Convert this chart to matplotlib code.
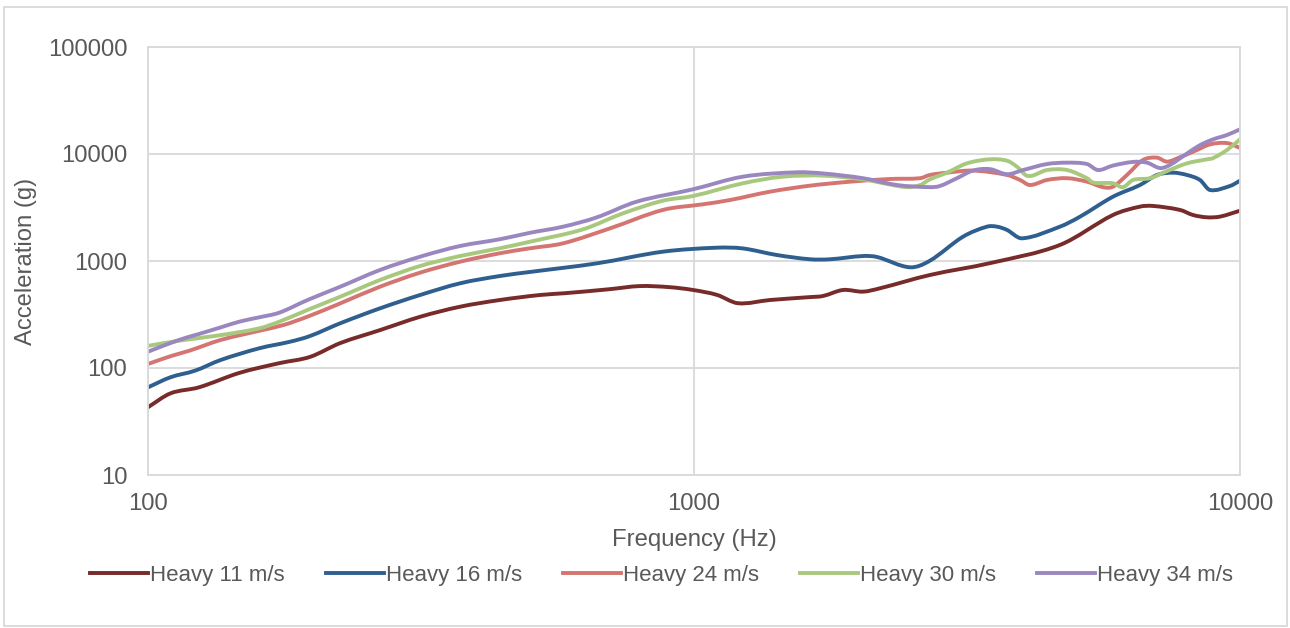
import numpy as np
import matplotlib.pyplot as plt
from matplotlib.patches import Rectangle, PathPatch
from matplotlib.path import Path
from matplotlib.lines import Line2D
from matplotlib.ticker import FixedLocator, NullLocator

plt.rcParams['font.family'] = ['Liberation Sans', 'DejaVu Sans']

# Heavy 11 m/s
f11 = [100, 110, 124, 147, 174, 198, 225, 266, 315, 373, 441, 522, 580, 700, 796, 900, 996,
       1102, 1204, 1378, 1632, 1723, 1875, 2039, 2191, 2705, 3500, 4680, 5853, 6558, 6928,
       7765, 8201, 8700, 9193, 10000]
a11 = [43, 58, 66, 90, 111, 127, 171, 226, 301, 374, 432, 481, 500, 545, 583, 570, 536,
       482, 403, 432, 460, 471, 536, 517, 556, 740, 960, 1413, 2692, 3222, 3270,
       3000, 2692, 2560, 2600, 2950]

# Heavy 16 m/s
f16 = [100, 110, 122, 136, 160, 182, 198, 225, 266, 315, 373, 441, 501, 664, 877, 1102,
       1229, 1419, 1632, 1775, 2039, 2164, 2486, 2705, 3109, 3440, 3588, 3744, 3988, 4680,
       5093, 5853, 6558, 7047, 7539, 7997, 8447, 8811, 9588, 10000]
a16 = [66, 82, 94.5, 119, 153, 176, 199, 262, 361, 481, 619, 724, 790, 951, 1222, 1332,
       1310, 1137, 1038, 1038, 1113, 1090, 873, 1007, 1686, 2094, 2094, 1950, 1629, 2094,
       2595, 3990, 5130, 6365, 6690, 6365, 5716, 4610, 5025, 5630]

# Heavy 24 m/s
f24 = [100, 110, 119, 136, 160, 177, 196, 225, 266, 315, 373, 441, 501, 576, 702, 877, 1039,
       1164, 1378, 1632, 1931, 2286, 2594, 2705, 2906, 3243, 3744, 3955, 4125, 4431, 4823,
       5245, 5612, 5853, 6209, 6642, 7047, 7350, 7765, 8341, 8811, 9467, 10000]
a24 = [109, 129, 145, 183, 223, 252, 302, 402, 575, 778, 985, 1181, 1315, 1464, 2020, 3000, 3390,
       3715, 4445, 5060, 5510, 5840, 5940, 6370, 6690, 7000, 6370, 5716, 5130, 5716, 5940,
       5510, 4900, 4950, 6370, 8790, 9240, 8480, 9330, 10900, 12300, 12650, 11400]

# Heavy 30 m/s
f30 = [100, 114, 136, 160, 174, 196, 225, 266, 315, 373, 441, 501, 626, 741, 877, 996, 1229,
       1455, 1723, 2039, 2191, 2455, 2594, 2705, 2906, 3162, 3484, 3744, 3905, 4090, 4431,
       4823, 5245, 5380, 5853, 6105, 6368, 6841, 7350, 7997, 8700, 8924, 9467, 10000]
a30 = [161, 180, 203, 235, 271, 349, 464, 664, 898, 1113, 1315, 1516, 1976, 2788, 3660, 4050, 5325,
       6140, 6280, 5800, 5410, 4900, 5120, 5800, 6690, 8180, 8920, 8650, 7600, 6220, 7080,
       7080, 5940, 5410, 5325, 4900, 5716, 5940, 6920, 8180, 8920, 9150, 10900, 13700]

# Heavy 34 m/s
f34 = [100, 114, 124, 136, 147, 160, 174, 196, 225, 266, 315, 373, 441, 501, 576, 664, 786, 996,
       1229, 1544, 1723, 2039, 2354, 2705, 2821, 3031, 3243, 3484, 3744, 4005, 4431, 4823,
       5245, 5495, 5853, 6368, 6755, 7137, 7444, 7997, 8447, 8924, 9467, 10000]
a34 = [142, 183, 208, 240, 271, 298, 329, 432, 575, 824, 1097, 1381, 1597, 1836, 2094, 2560, 3590, 4680,
       6140, 6745, 6580, 5940, 5130, 4900, 5025, 5940, 7000, 7220, 6470, 7080, 8060, 8300,
       8060, 7080, 7800, 8430, 8300, 7390, 7910, 10100, 12100, 13700, 15060, 17000]

labels = ['Heavy 11 m/s', 'Heavy 16 m/s', 'Heavy 24 m/s', 'Heavy 30 m/s', 'Heavy 34 m/s']
colors = ['#772B2A', '#2F5F8F', '#D47572', '#A8C97D', '#9B87BF']


def smooth_path(f, a):
    # smoothed line like Excel, bezier segments built in log-log space
    x = np.log10(f)
    y = np.log10(a)
    n = len(x)
    m = np.zeros(n)
    m[0] = (y[1] - y[0]) / (x[1] - x[0])
    m[-1] = (y[-1] - y[-2]) / (x[-1] - x[-2])
    m[1:-1] = (y[2:] - y[:-2]) / (x[2:] - x[:-2])
    verts = [(x[0], y[0])]
    codes = [Path.MOVETO]
    for i in range(n - 1):
        h = x[i + 1] - x[i]
        verts += [(x[i] + h / 3, y[i] + m[i] * h / 3),
                  (x[i + 1] - h / 3, y[i + 1] - m[i + 1] * h / 3),
                  (x[i + 1], y[i + 1])]
        codes += [Path.CURVE4] * 3
    return Path(10 ** np.array(verts), codes)


fig = plt.figure(figsize=(12.9, 6.28), dpi=100)
ax = fig.add_axes([148/1290, 1-475/628, (1240-148)/1290, (475-47)/628])

series = [(f11, a11), (f16, a16), (f24, a24), (f30, a30), (f34, a34)]
handles = []
for (f, a), lab, c in zip(series, labels, colors):
    ax.add_patch(PathPatch(smooth_path(f, a), fill=False, edgecolor=c, lw=2.8,
                           joinstyle='round', capstyle='round'))
    handles.append(Line2D([], [], color=c, lw=2.8, label=lab))

ax.set_xscale('log')
ax.set_yscale('log')
ax.set_xlim(100, 10000)
ax.set_ylim(10, 100000)
ax.xaxis.set_major_locator(FixedLocator([100, 1000, 10000]))
ax.yaxis.set_major_locator(FixedLocator([10, 100, 1000, 10000, 100000]))
ax.xaxis.set_minor_locator(NullLocator())
ax.yaxis.set_minor_locator(NullLocator())
ax.set_xticklabels(['100', '1000', '10000'])
ax.set_yticklabels(['10', '100', '1000', '10000', '100000'])
ax.tick_params(length=0, labelsize=17.2, labelcolor='#595959')
ax.tick_params(axis='x', pad=13)
ax.tick_params(axis='y', pad=15)
ax.grid(True, color='#D9D9D9', lw=1.3)
ax.set_axisbelow(True)
for s in ax.spines.values():
    s.set_color('#D9D9D9')
    s.set_linewidth(1.3)

ax.set_xlabel('Frequency (Hz)', fontsize=17.2, color='#595959', labelpad=10)
ax.set_ylabel('Acceleration (g)', fontsize=17.2, color='#595959', labelpad=8)

fig.legend(handles=handles, loc='center', bbox_to_anchor=(0.513, 1-575/628), ncol=5,
           frameon=False, fontsize=16, labelcolor='#595959', handlelength=2.6,
           handletextpad=0.1, columnspacing=1.85)

fig.patches.append(Rectangle((4/1290, 1-626/628), 1283/1290, 619/628, transform=fig.transFigure,
                             fill=False, edgecolor='#D9D9D9', lw=1.3))

fig.savefig('out.png', dpi=100)
